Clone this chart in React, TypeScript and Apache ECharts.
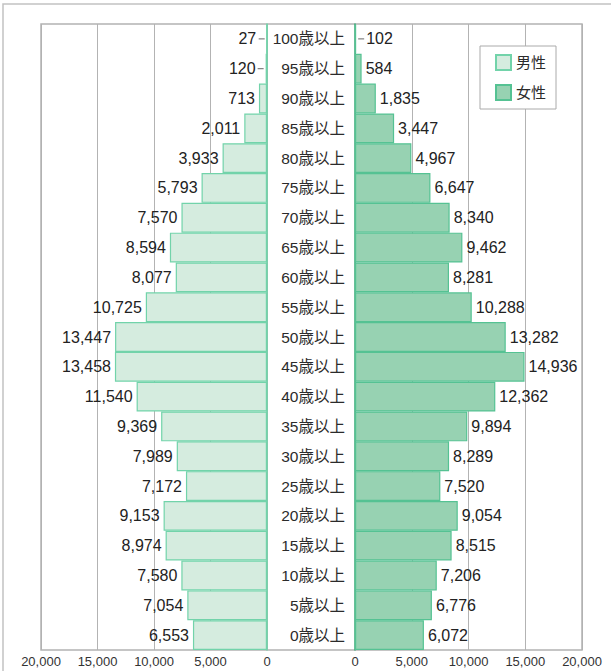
import React, { useEffect, useRef } from "react";
import * as echarts from "echarts";

const ageLabels = [
  "0歳以上", "5歳以上", "10歳以上", "15歳以上", "20歳以上", "25歳以上", "30歳以上",
  "35歳以上", "40歳以上", "45歳以上", "50歳以上", "55歳以上", "60歳以上", "65歳以上",
  "70歳以上", "75歳以上", "80歳以上", "85歳以上", "90歳以上", "95歳以上", "100歳以上",
];
const male = [6553, 7054, 7580, 8974, 9153, 7172, 7989, 9369, 11540, 13458, 13447, 10725, 8077, 8594, 7570, 5793, 3933, 2011, 713, 120, 27];
const female = [6072, 6776, 7206, 8515, 9054, 7520, 8289, 9894, 12362, 14936, 13282, 10288, 8281, 9462, 8340, 6647, 4967, 3447, 1835, 584, 102];
const seriesNames = ["男性", "女性"];
const LEADER_THRESHOLD = 200;

const FONT = "'Liberation Sans', 'Noto Sans CJK JP', sans-serif";
const fmt = (v: number) => v.toLocaleString("en-US");

export default function App() {
  const ref = useRef<HTMLDivElement>(null);
  useEffect(() => {
    if (!ref.current) return;
    const chart = echarts.init(ref.current, undefined, { renderer: "svg" });
    const xCommon = {
      type: "value" as const,
      min: 0,
      max: 20000,
      interval: 5000,
      axisLine: { show: false },
      axisTick: { show: false },
      axisLabel: {
        color: "#333",
        fontSize: 13,
        fontFamily: FONT,
        margin: 5,
        formatter: (v: number) => fmt(v),
      },
      splitLine: { show: true, lineStyle: { color: "#b3b3b3", width: 1 } },
    };
    const toItems = (arr: number[]) =>
      arr.map((v) => (v < LEADER_THRESHOLD ? { value: v, label: { distance: 10 } } : v));
    chart.setOption({
      animation: false,
      backgroundColor: "#fff",
      textStyle: { fontFamily: FONT },
      grid: [
        { left: 41, top: 24, width: 226, height: 626 },
        { left: 355, top: 24, width: 227, height: 626 },
      ],
      xAxis: [
        { ...xCommon, gridIndex: 0, inverse: true },
        { ...xCommon, gridIndex: 1 },
      ],
      yAxis: [
        {
          type: "category",
          gridIndex: 0,
          data: ageLabels,
          position: "right",
          axisLine: { show: true, lineStyle: { color: "#6fd4a9", width: 1.5 } },
          axisTick: { show: false },
          axisLabel: { show: false },
        },
        {
          type: "category",
          gridIndex: 1,
          data: ageLabels,
          position: "left",
          axisLine: { show: true, lineStyle: { color: "#35a874", width: 1.5 } },
          axisTick: { show: false },
          axisLabel: {
            show: true,
            color: "#2b2b2b",
            fontSize: 15.5,
            fontFamily: FONT,
            margin: 10,
          },
        },
      ],
      legend: {
        orient: "vertical",
        left: 480,
        top: 46,
        data: seriesNames,
        icon: "rect",
        backgroundColor: "#fff",
        borderColor: "#aaa",
        borderWidth: 1,
        padding: [8, 10, 8, 15],
        itemWidth: 15,
        itemHeight: 15,
        itemGap: 13,
        textStyle: { color: "#2b2b2b", fontSize: 15, fontFamily: FONT },
      },
      series: [
        {
          name: seriesNames[0],
          type: "bar",
          xAxisIndex: 0,
          yAxisIndex: 0,
          data: toItems(male),
          barCategoryGap: "0%",
          itemStyle: { color: "#d5ecdf", borderColor: "#72d3aa", borderWidth: 1.2 },
          label: {
            show: true,
            position: "left",
            distance: 4,
            color: "#222",
            fontSize: 16,
            fontFamily: FONT,
            formatter: (p: any) => fmt(p.value),
          },
          z: 3,
        },
        {
          name: seriesNames[1],
          type: "bar",
          xAxisIndex: 1,
          yAxisIndex: 1,
          data: toItems(female),
          barCategoryGap: "0%",
          itemStyle: { color: "#97d2b2", borderColor: "#55c293", borderWidth: 1.2 },
          label: {
            show: true,
            position: "right",
            distance: 4,
            color: "#222",
            fontSize: 16,
            fontFamily: FONT,
            formatter: (p: any) => fmt(p.value),
          },
          z: 3,
        },
      ],
    });

    const graphics: any[] = [
      {
        type: "rect",
        shape: { x: 3, y: 4, width: 700, height: 700 },
        style: { fill: "none", stroke: "#c2c2c2", lineWidth: 1.5 },
        z: 0,
        silent: true,
      },
      {
        type: "rect",
        shape: { x: 41, y: 24, width: 541, height: 626 },
        style: { fill: "none", stroke: "#b3b3b3", lineWidth: 1.5 },
        z: 0,
        silent: true,
      },
    ];
    male.forEach((v, i) => {
      if (v >= LEADER_THRESHOLD) return;
      const p = chart.convertToPixel({ xAxisIndex: 0, yAxisIndex: 0 }, [v, ageLabels[i]]) as number[];
      graphics.push({
        type: "line",
        shape: { x1: p[0] - 8, y1: p[1], x2: p[0] - 2, y2: p[1] },
        style: { stroke: "#666", lineWidth: 1 },
        z: 10,
        silent: true,
      });
    });
    female.forEach((v, i) => {
      if (v >= LEADER_THRESHOLD) return;
      const p = chart.convertToPixel({ xAxisIndex: 1, yAxisIndex: 1 }, [v, ageLabels[i]]) as number[];
      graphics.push({
        type: "line",
        shape: { x1: p[0] + 2, y1: p[1], x2: p[0] + 8, y2: p[1] },
        style: { stroke: "#666", lineWidth: 1 },
        z: 10,
        silent: true,
      });
    });
    chart.setOption({ graphic: graphics });

    return () => chart.dispose();
  }, []);
  return <div ref={ref} style={{ width: 611, height: 671, position: "absolute", left: 0, top: 0 }} />;
}
